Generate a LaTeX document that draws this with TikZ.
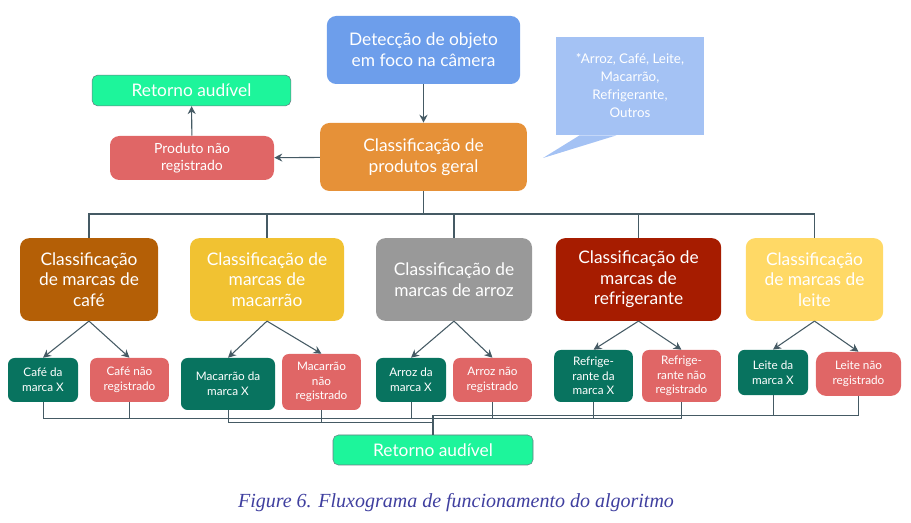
\documentclass[tikz,border=0pt]{standalone}
\usepackage{fontspec}
\setmainfont{Lato}
\newfontfamily\capfont{Liberation Serif}
\usetikzlibrary{arrows.meta, calc}
\definecolor{fluxblue}{HTML}{6D9EEB}
\definecolor{fluxorange}{HTML}{E69138}
\definecolor{fluxred}{HTML}{E06666}
\definecolor{fluxgreen}{HTML}{1DF59B}
\definecolor{fluxnote}{HTML}{A4C2F4}
\definecolor{fluxcafe}{HTML}{B45F06}
\definecolor{fluxmac}{HTML}{F1C232}
\definecolor{fluxarroz}{HTML}{999999}
\definecolor{fluxrefri}{HTML}{A61C00}
\definecolor{fluxleite}{HTML}{FFD966}
\definecolor{fluxteal}{HTML}{08735F}
\definecolor{fluxline}{HTML}{455A64}
\definecolor{fluxcap}{HTML}{3F3F9F}

\begin{document}
\begin{tikzpicture}[
    x=0.75pt, y=-0.75pt,
    box/.style={rounded corners=7pt, align=center, inner sep=2pt, text=white,
                font=\fontsize{13}{15.5}\selectfont},
    catbox/.style={box, minimum height=62pt},
    leaf/.style={rounded corners=5pt, align=center, inner sep=1pt, text=white,
                 font=\fontsize{8.8}{11}\selectfont},
    ok/.style={leaf, fill=fluxteal},
    nok/.style={leaf, fill=fluxred},
    retbox/.style={box, fill=fluxgreen, draw=fluxline!80, rounded corners=4pt,
                   minimum height=23pt},
    arr/.style={-{Stealth[length=6pt, width=6pt]}, fluxline, thick},
    wire/.style={fluxline, thick}]
  \useasboundingbox (0,0) rectangle (911,523);
  % topo
  \node[box, fill=fluxblue, minimum width=145pt, minimum height=51pt] (det) at (423.5,50)
    {Detecção de objeto\\em foco na câmera};
  \node[box, fill=fluxorange, minimum width=155pt, minimum height=51pt] (geral) at (423.5,157)
    {Classificação de\\produtos geral};
  \node[box, fill=fluxred, minimum width=123pt, minimum height=33pt,
        font=\fontsize{10.5}{13}\selectfont] (prodnr) at (192,158) {Produto não\\registrado};
  \node[retbox, minimum width=149pt] (ret1) at (191.5,90.5) {Retorno audível};
  \node[fill=fluxnote, minimum width=111pt, minimum height=73.5pt, align=center,
        text=white, font=\fontsize{10}{13.5}\selectfont] (nota) at (630,86)
    {*Arroz, Café, Leite,\\Macarrão,\\Refrigerante,\\Outros};
  \fill[fluxnote] ($(nota.south west)+(24,0)$) -- (543,158) -- ($(nota.south west)+(61,0)$) -- cycle;
  \draw[arr] (det) -- (geral);
  \draw[arr] (geral) -- (prodnr);
  \draw[arr] (prodnr) -- (ret1);
  % categorias
  \node[catbox, fill=fluxcafe, minimum width=103.5pt] (cafe) at (89,279.5)
    {Classificação\\de marcas de\\café};
  \node[catbox, fill=fluxmac, minimum width=115.5pt] (mac) at (267,279.5)
    {Classificação de\\marcas de\\macarrão};
  \node[catbox, fill=fluxarroz, minimum width=117pt] (arroz) at (454,279.5)
    {Classificação de\\marcas de arroz};
  \node[catbox, fill=fluxrefri, minimum width=124pt] (refri) at (638.5,279.5)
    {Classificação de\\marcas de\\refrigerante};
  \node[catbox, fill=fluxleite, minimum width=103pt] (leite) at (814.5,279.5)
    {Classificação\\de marcas de\\leite};
  \coordinate (ramo) at (423.5,214);
  \draw[wire] (geral) -- (ramo);
  \foreach \c in {cafe,mac,arroz,refri,leite}
    \draw[wire] (ramo) -| (\c.north);
  % marcas
  \node[ok, minimum width=52.5pt, minimum height=33pt] (cafe-x) at (43,380) {Café da\\marca X};
  \node[nok, minimum width=59pt, minimum height=33pt] (cafe-n) at (129.5,380) {Café não\\registrado};
  \node[ok, minimum width=70.5pt, minimum height=39pt] (mac-x) at (228,384) {Macarrão da\\marca X};
  \node[nok, minimum width=59pt, minimum height=42pt] (mac-n) at (321.5,382) {Macarrão\\não\\registrado};
  \node[ok, minimum width=52.5pt, minimum height=33pt] (arroz-x) at (411,380) {Arroz da\\marca X};
  \node[nok, minimum width=59pt, minimum height=33pt] (arroz-n) at (492.5,380) {Arroz não\\registrado};
  \node[ok, minimum width=59pt, minimum height=39pt] (refri-x) at (593.5,376) {Refrige-\\rante da\\marca X};
  \node[nok, minimum width=59pt, minimum height=39pt] (refri-n) at (681.5,376) {Refrige-\\rante não\\registrado};
  \node[ok, minimum width=52.5pt, minimum height=34pt] (leite-x) at (773,372.5) {Leite da\\marca X};
  \node[nok, minimum width=64pt, minimum height=33pt, rounded corners=8pt] (leite-n) at (858.5,374) {Leite não\\registrado};
  \foreach \c in {cafe,mac,arroz,refri,leite} {
    \draw[arr] (\c.south) -- (\c-x.north);
    \draw[arr] (\c.south) -- (\c-n.north);
  }
  % retorno final
  \node[retbox, minimum width=150pt, minimum height=22.5pt] (ret2) at (433,450) {Retorno audível};
  \coordinate (jA) at (433,418);
  \coordinate (jB) at (433,422);
  \coordinate (jC) at (433,415);
  \foreach \f in {cafe-x,cafe-n,arroz-x,arroz-n,refri-x,refri-n}
    \draw[wire, thin] (\f.south) |- (jA);
  \foreach \f in {mac-x,mac-n}
    \draw[wire, thin] (\f.south) |- (jB);
  \foreach \f in {leite-x,leite-n}
    \draw[wire, thin] (\f.south) |- (jC);
  \draw[wire] (jC) -- (ret2);
  \node[text=fluxcap, font=\capfont\itshape\fontsize{15}{17}\selectfont] (legenda) at (456,503)
    {Figure 6. Fluxograma de funcionamento do algoritmo};
\end{tikzpicture}
\end{document}
